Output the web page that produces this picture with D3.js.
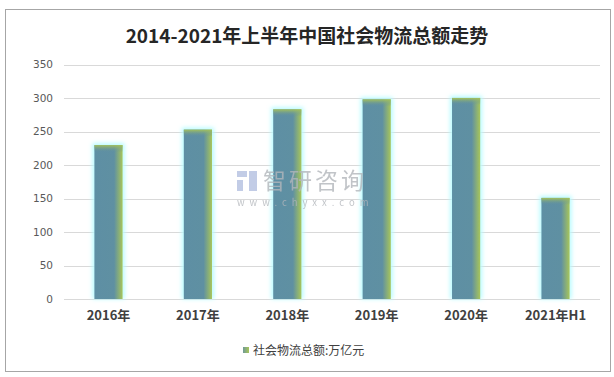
<!DOCTYPE html>
<html>
<head>
<meta charset="utf-8">
<script src="https://cdn.jsdelivr.net/npm/d3@7/dist/d3.min.js"></script>
<style>
  body { margin: 0; background: #fff; }
  text { font-family: "Noto Sans CJK SC", "DejaVu Sans", sans-serif; }
</style>
</head>
<body>
<script>
const width = 614;
const height = 377;

const categories = ["2016年", "2017年", "2018年", "2019年", "2020年", "2021年H1"];
const values = [229.7, 252.8, 283.1, 298.0, 300.1, 150.9];
const yTicks = [0, 50, 100, 150, 200, 250, 300, 350];
const title = "2014-2021年上半年中国社会物流总额走势";
const seriesName = "社会物流总额:万亿元";

const svg = d3.select("body").append("svg")
    .attr("width", width)
    .attr("height", height);

const defs = svg.append("defs");

// horizontal gradient: blue-gray body fading to yellow-green at the right edge
const gx = defs.append("linearGradient").attr("id", "barX")
    .attr("x1", 0).attr("x2", 1).attr("y1", 0).attr("y2", 0);
gx.append("stop").attr("offset", "0%").attr("stop-color", "#5e8fa4");
gx.append("stop").attr("offset", "70%").attr("stop-color", "#5f90a2");
gx.append("stop").attr("offset", "100%").attr("stop-color", "#a8c55a");

// top band: yellow-green fading down into the body
const gy = defs.append("linearGradient").attr("id", "barTop")
    .attr("x1", 0).attr("x2", 0).attr("y1", 0).attr("y2", 1);
gy.append("stop").attr("offset", "0%").attr("stop-color", "#a5c25a").attr("stop-opacity", 1);
gy.append("stop").attr("offset", "100%").attr("stop-color", "#5f90a3").attr("stop-opacity", 0);

const glow = defs.append("filter").attr("id", "glow")
    .attr("x", "-50%").attr("y", "-50%").attr("width", "200%").attr("height", "200%");
glow.append("feGaussianBlur").attr("stdDeviation", 2);

const legendGrad = defs.append("linearGradient").attr("id", "legendG")
    .attr("x1", 0).attr("x2", 1).attr("y1", 0).attr("y2", 0);
legendGrad.append("stop").attr("offset", "0%").attr("stop-color", "#6f9a98");
legendGrad.append("stop").attr("offset", "100%").attr("stop-color", "#a8c55a");

// outer frame
svg.append("rect")
    .attr("x", 5.5).attr("y", 9.5)
    .attr("width", 605).attr("height", 362)
    .attr("fill", "#fff")
    .attr("stroke", "#a6a6a6")
    .attr("stroke-width", 1);

svg.append("text")
    .attr("x", 307).attr("y", 43)
    .attr("text-anchor", "middle")
    .attr("font-size", 19)
    .attr("font-weight", "bold")
    .attr("fill", "#262626")
    .text(title);

const x = d3.scaleBand()
    .domain(categories)
    .range([64, 600])
    .paddingInner(0.685)
    .paddingOuter(0.34);

const y = d3.scaleLinear()
    .domain([0, 350])
    .range([299, 64.5]);

// gridlines
svg.append("g")
    .selectAll("line")
    .data(yTicks)
    .enter()
    .append("line")
    .attr("x1", 64).attr("x2", 600)
    .attr("y1", (d) => Math.round(y(d)) + 0.5)
    .attr("y2", (d) => Math.round(y(d)) + 0.5)
    .attr("stroke", "#d9d9d9")
    .attr("stroke-width", 1);

// y tick labels
const yAxis = svg.append("g")
    .attr("transform", "translate(53,0)")
    .call(d3.axisLeft(y).tickValues(yTicks).tickSize(0).tickPadding(0));
yAxis.select(".domain").remove();
yAxis.selectAll("text")
    .attr("fill", "#595959")
    .style("font-family", "\"DejaVu Sans\", sans-serif")
    .attr("font-size", 10.5);

// x labels
const xAxis = svg.append("g")
    .attr("transform", "translate(0,311)")
    .call(d3.axisBottom(x).tickSize(0).tickPadding(0));
xAxis.select(".domain").remove();
xAxis.selectAll("text")
    .attr("font-size", 13)
    .attr("font-weight", "bold")
    .attr("fill", "#404040")
    .style("font-family", "\"Noto Sans CJK SC\", sans-serif");

// bars
const bars = svg.append("g")
    .selectAll("g")
    .data(values)
    .enter()
    .append("g");

bars.append("rect")
    .attr("x", (d, i) => x(categories[i]) - 2)
    .attr("y", (d) => y(d) - 2)
    .attr("width", x.bandwidth() + 4)
    .attr("height", (d) => y(0) - y(d) + 2)
    .attr("fill", "#b8fbff")
    .attr("filter", "url(#glow)");

bars.append("rect")
    .attr("x", (d, i) => x(categories[i]))
    .attr("y", (d) => y(d))
    .attr("width", x.bandwidth())
    .attr("height", (d) => y(0) - y(d))
    .attr("fill", "url(#barX)");

bars.append("rect")
    .attr("x", (d, i) => x(categories[i]))
    .attr("y", (d) => y(d))
    .attr("width", x.bandwidth())
    .attr("height", 7)
    .attr("fill", "url(#barTop)");

// watermark, drawn over the bars
const wm = svg.append("g").attr("opacity", 0.8);
wm.append("text")
    .attr("x", 263).attr("y", 189)
    .attr("font-size", 23)
    .attr("fill", "#b2b6bb")
    .attr("letter-spacing", 3)
    .text("智研咨询");
wm.append("text")
    .attr("x", 237).attr("y", 206)
    .attr("font-size", 9.5)
    .attr("fill", "#b2b6bb")
    .attr("letter-spacing", 5)
    .text("www.chyxx.com");
wm.append("rect").attr("x", 237).attr("y", 171).attr("width", 10).attr("height", 6).attr("fill", "#b4c0e0");
wm.append("rect").attr("x", 237).attr("y", 180).attr("width", 6).attr("height", 11).attr("fill", "#b4c0e0");
wm.append("rect").attr("x", 249).attr("y", 171).attr("width", 8).attr("height", 20).attr("fill", "#b4c0e0");

// legend
svg.append("rect")
    .attr("x", 243).attr("y", 347)
    .attr("width", 6).attr("height", 6)
    .attr("fill", "url(#legendG)");
svg.append("text")
    .attr("x", 253).attr("y", 354.5)
    .attr("font-size", 12)
    .attr("fill", "#404040")
    .text(seriesName);
</script>
</body>
</html>
